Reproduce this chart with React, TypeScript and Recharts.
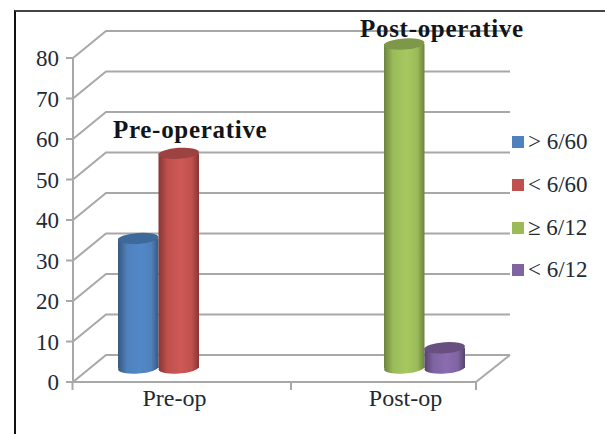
import React from "react";
import { BarChart, Bar, XAxis, YAxis, CartesianGrid, Legend } from "recharts";

const categories = ["Pre-op", "Post-op"];
const above660 = [32, null];
const below660 = [53, null];
const atLeast612 = [null, 80];
const below612 = [null, 5];
const valueTicks = [0, 10, 20, 30, 40, 50, 60, 70, 80];

const rows = categories.map((name, i) => ({
  name,
  above660: above660[i],
  below660: below660[i],
  atLeast612: atLeast612[i],
  below612: below612[i],
}));

const SERIF = "'Liberation Serif', serif";
const AXIS_GREY = "#a8a8a8";
const INK = "#222a33";
const DEPTH_X = 33;
const DEPTH_Y = 27;
const FLOOR_LIFT = 14;

const palette = [
  { id: "cyl-blue", base: "#4f81bd", edge: "#36597f", mid: "#5288c8", lid: "#3d6a9b" },
  { id: "cyl-red", base: "#c0504d", edge: "#853735", mid: "#ce5957", lid: "#9c4341" },
  { id: "cyl-green", base: "#9bbb59", edge: "#6c833f", mid: "#a6c85f", lid: "#7d9848" },
  { id: "cyl-purple", base: "#8064a2", edge: "#574570", mid: "#8b6cb0", lid: "#67507f" },
];

// Upright cylinder standing on the chart floor, lifted off the front axis plane.
const cylinder = (tone: (typeof palette)[number]) => (props: any) => {
  const { x, y, width, height } = props;
  if (!height || height <= 0) return null;
  const rx = width / 2;
  const ry = 5.5;
  const cx = x + rx;
  const top = y - FLOOR_LIFT;
  const bottom = y + height - FLOOR_LIFT;
  const paint = `url(#${tone.id})`;
  return (
    <g>
      <ellipse cx={cx} cy={bottom} rx={rx} ry={ry} fill={paint} transform={`rotate(-4 ${cx} ${bottom})`} />
      <rect x={x} y={top} width={width} height={bottom - top} fill={paint} />
      <ellipse cx={cx} cy={top} rx={rx} ry={ry} fill={tone.lid} transform={`rotate(-4 ${cx} ${top})`} />
    </g>
  );
};

// Each grid line runs from the front axis back along the side wall, then across the back wall.
const wallLine = (p: any) => {
  const { x1, x2, y1, key } = p;
  const isFloor = Math.abs(y1 - (p.y + p.height)) < 1;
  return (
    <g key={key}>
      <path
        d={`M${x1},${y1} L${x1 + DEPTH_X},${y1 - DEPTH_Y} L${x2 + DEPTH_X + 1},${y1 - DEPTH_Y}`}
        fill="none"
        stroke={AXIS_GREY}
        strokeWidth={2}
      />
      {isFloor && (
        <path d={`M${x2},${y1} L${x2 + DEPTH_X + 1},${y1 - DEPTH_Y}`} fill="none" stroke={AXIS_GREY} strokeWidth={2} />
      )}
    </g>
  );
};

const labelShift = [-24, 22];
const tickMarks = [[-126, 92.5], [92.5]];

const categoryTick = (p: any) => {
  const { x, y, index, payload } = p;
  const axisY = y - 8;
  return (
    <g>
      {tickMarks[index].map((dx) => (
        <line key={dx} x1={x + dx} x2={x + dx} y1={axisY} y2={axisY + 8} stroke={AXIS_GREY} strokeWidth={2} />
      ))}
      <text x={x + labelShift[index]} y={axisY + 24} textAnchor="middle" fontFamily={SERIF} fontSize={24} fill={INK}>
        {payload.value}
      </text>
    </g>
  );
};

const legendBox = (props: any) => (
  <div style={{ fontFamily: SERIF, fontSize: 23, color: INK }}>
    {(props.payload || []).map((item: any) => (
      <div key={item.value} style={{ height: 42.7, display: "flex", alignItems: "center" }}>
        <span style={{ width: 12, height: 12, background: item.color, marginRight: 4 }} />
        <span>{item.value}</span>
      </div>
    ))}
  </div>
);

export default function App() {
  return (
    <div style={{ position: "absolute", left: 0, top: 0, width: 605, height: 434, background: "#fff", overflow: "hidden" }}>
      <div
        style={{
          position: "absolute",
          left: 14,
          top: 10,
          width: 591,
          height: 424,
          borderLeft: "2px solid #111",
          borderTop: "2px solid #444",
          boxSizing: "border-box",
        }}
      />
      <BarChart
        width={605}
        height={434}
        data={rows}
        margin={{ top: 58, right: 129, bottom: 0, left: 0 }}
        barSize={40.5}
        barGap={0}
        style={{ position: "absolute", left: 0, top: 0 }}
      >
        <defs>
          {palette.map((t) => (
            <linearGradient key={t.id} id={t.id} x1="0" x2="1" y1="0" y2="0">
              <stop offset="0" stopColor={t.edge} />
              <stop offset="0.22" stopColor={t.base} />
              <stop offset="0.55" stopColor={t.mid} />
              <stop offset="0.82" stopColor={t.base} />
              <stop offset="1" stopColor={t.edge} />
            </linearGradient>
          ))}
        </defs>
        <CartesianGrid vertical={false} horizontal={wallLine} />
        <XAxis
          dataKey="name"
          height={52}
          padding={{ left: 33, right: 0 }}
          axisLine={{ stroke: AXIS_GREY, strokeWidth: 2 }}
          tickLine={false}
          tick={categoryTick}
          interval={0}
        />
        <YAxis
          width={73}
          domain={[0, 80]}
          ticks={valueTicks}
          interval={0}
          axisLine={{ stroke: AXIS_GREY, strokeWidth: 2 }}
          tickLine={{ stroke: AXIS_GREY, strokeWidth: 2 }}
          tickSize={7}
          tickMargin={7}
          tick={{ fontFamily: SERIF, fontSize: 23, fill: INK }}
        />
        <Legend
          layout="horizontal"
          align="center"
          verticalAlign="middle"
          itemSorter={null}
          content={legendBox}
          wrapperStyle={{ left: 512, top: 121, width: 93 }}
        />
        <Bar dataKey="above660" name="> 6/60" fill={palette[0].base} shape={cylinder(palette[0])} isAnimationActive={false} />
        <Bar dataKey="below660" name="< 6/60" fill={palette[1].base} shape={cylinder(palette[1])} isAnimationActive={false} />
        <Bar dataKey="atLeast612" name="≥ 6/12" fill={palette[2].base} shape={cylinder(palette[2])} isAnimationActive={false} />
        <Bar dataKey="below612" name="< 6/12" fill={palette[3].base} shape={cylinder(palette[3])} isAnimationActive={false} />
        <text x={113} y={138} fontFamily={SERIF} fontWeight="bold" fontSize={25} letterSpacing={0.7} fill="#10151c">
          Pre-operative
        </text>
        <text x={360} y={37} fontFamily={SERIF} fontWeight="bold" fontSize={25} letterSpacing={0.7} fill="#10151c">
          Post-operative
        </text>
      </BarChart>
    </div>
  );
}
